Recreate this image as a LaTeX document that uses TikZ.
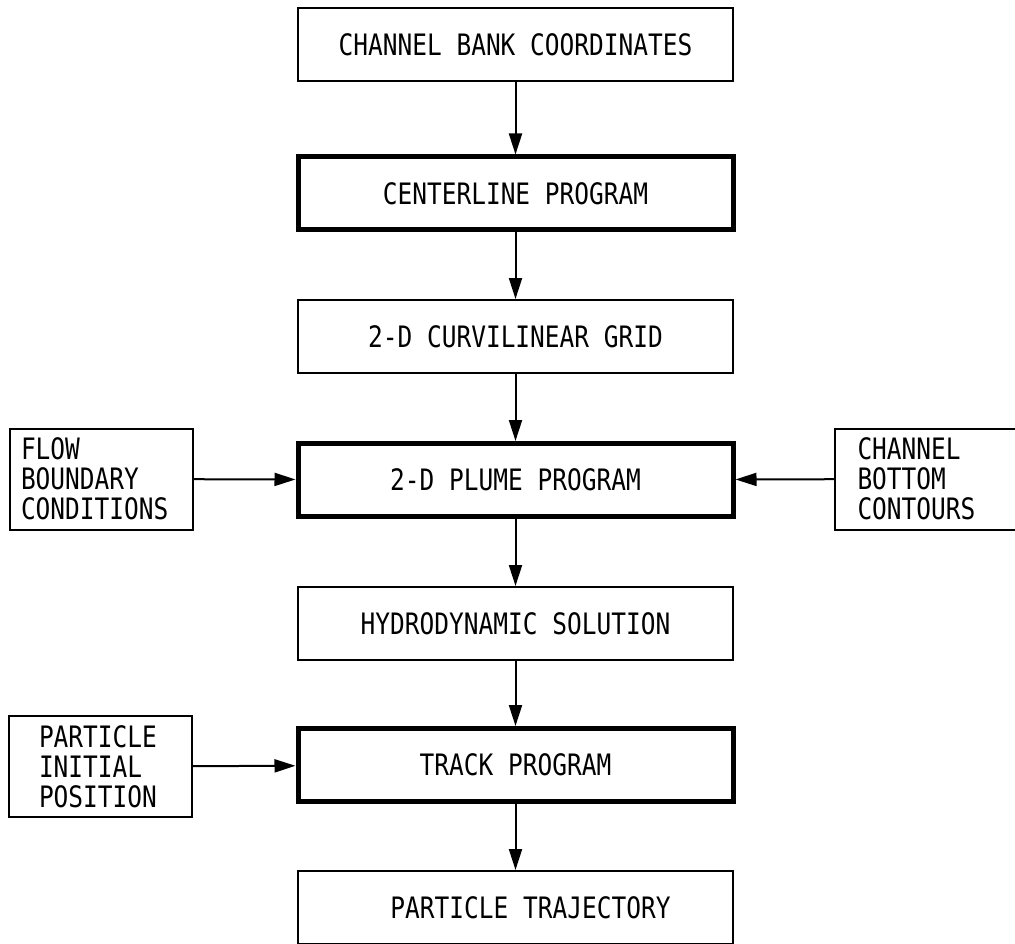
\documentclass[tikz,border=0pt]{standalone}
\usepackage{fontspec}
\newfontfamily\chartfont{DejaVu Sans Mono}[FakeStretch=0.83]
\usetikzlibrary{arrows.meta}
\begin{document}
\begin{tikzpicture}[x = 1pt, y = -1pt,
    font = \chartfont\fontsize{29.5}{30}\selectfont,
    stage/.style = {draw, line width = 2pt, minimum width = 435pt, minimum height = 73pt, inner sep = 0pt},
    program/.style = {stage, line width = 5pt},
    source/.style = {draw, line width = 2pt, minimum width = 183pt, minimum height = 101pt, inner sep = 0pt, align = left},
    flow/.style = {line width = 2pt, -{Triangle[length = 21pt, width = 13pt]}}
]
                \useasboundingbox (0, 0) rectangle (1015, 944);
                \node [stage] (bank) at (515.5, 44.5) {CHANNEL BANK COORDINATES};
                \node [program] (centerline) at (515.5, 193.5) {CENTERLINE PROGRAM};
                \node [stage] (grid) at (515.5, 336.5) {2-D CURVILINEAR GRID};
                \node [program] (plume) at (515.5, 480) {2-D PLUME PROGRAM};
                \node [stage] (hydro) at (515.5, 623.5) {HYDRODYNAMIC SOLUTION};
                \node [program] (track) at (515.5, 765) {TRACK PROGRAM};
                \node [stage] (trajectory) at (515.5, 907.5) {\hspace{30pt}PARTICLE TRAJECTORY};
                \node [source, text width = 160pt] (boundary) at (101, 479) {FLOW\\BOUNDARY\\CONDITIONS};
                \node [source, text width = 138pt] (bottom) at (926.5, 479) {CHANNEL\\BOTTOM\\CONTOURS};
                \node [source, text width = 122pt] (initial) at (100, 766.5) {PARTICLE\\INITIAL\\POSITION};
                \draw [flow] (bank) -- (centerline);
                \draw [flow] (centerline) -- (grid);
                \draw [flow] (grid) -- (plume);
                \draw [flow] (plume) -- (hydro);
                \draw [flow] (hydro) -- (track);
                \draw [flow] (track) -- (trajectory);
                \draw [flow] (boundary) -- (plume);
                \draw [flow] (bottom) -- (plume);
                \draw [flow] (initial) -- (track);
\end{tikzpicture}
\end{document}
